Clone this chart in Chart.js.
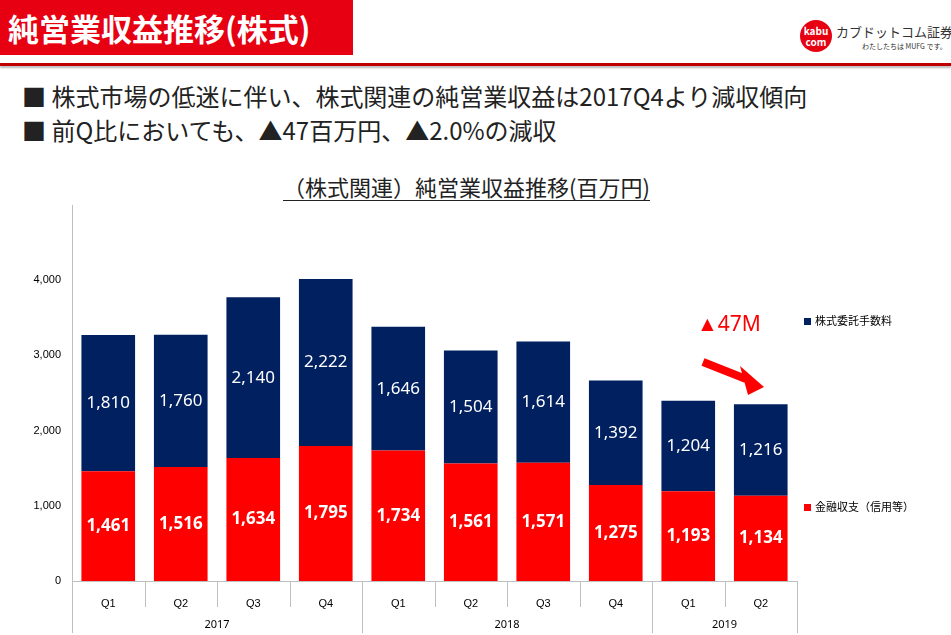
<!DOCTYPE html>
<html><head><meta charset="utf-8">
<script src="https://cdn.jsdelivr.net/npm/chart.js@4"></script>
<style>
body{margin:0;width:951px;height:635px;position:relative;background:#fff;font-family:"Noto Sans CJK JP",sans-serif;overflow:hidden}
#c{position:absolute;left:0;top:0}
.hd{position:absolute;left:0;top:0;width:353px;height:55px;background:#e60012;color:#fff;font-weight:bold;font-size:31px;line-height:55px;padding-left:8px;box-sizing:border-box;white-space:nowrap}
.rule{position:absolute;left:0;top:63px;width:951px;height:3px;background:#c00000;box-shadow:0 2px 2px #bbb}
.b{position:absolute;left:22px;font-size:24px;color:#222;white-space:nowrap}
.t{position:absolute;left:283px;top:172px;font-size:22px;color:#222;white-space:nowrap;border-bottom:1.5px solid #222;line-height:28px}
.logo{position:absolute;left:800px;top:20px;width:32px;height:32px;border-radius:50%;background:#e60012;color:#fff;font-size:10px;line-height:11px;text-align:center;padding-top:5px;box-sizing:border-box;font-weight:bold}
.lt{position:absolute;left:836px;top:22px;font-size:13px;color:#333;white-space:nowrap}
.ls{position:absolute;left:862px;top:41px;font-size:7px;color:#333;white-space:nowrap}
</style></head><body>
<div class="hd">純営業収益推移(株式)</div>
<div class="logo">kabu<br>com</div>
<div class="lt">カブドットコム証券</div>
<div class="ls">わたしたちは MUFG です。</div>
<div class="rule"></div>
<div class="b" style="top:78px">■ 株式市場の低迷に伴い、株式関連の純営業収益は2017Q4より減収傾向</div>
<div class="b" style="top:112px">■ 前Q比においても、▲47百万円、▲2.0%の減収</div>
<div class="t">（株式関連）純営業収益推移(百万円)</div>
<canvas id="c" width="951" height="635"></canvas>
<script>
// データ
const quarters = ['Q1','Q2','Q3','Q4','Q1','Q2','Q3','Q4','Q1','Q2'];
const years = ['2017','2017','2017','2017','2018','2018','2018','2018','2019','2019'];
const kinyu = [1461,1516,1634,1795,1734,1561,1571,1275,1193,1134];
const itaku = [1810,1760,2140,2222,1646,1504,1614,1392,1204,1216];
const seriesNames = ['金融収支（信用等）','株式委託手数料'];

const RED = '#ff0000', NAVY = '#002060';

const overlay = {
  id: 'overlay',
  afterDatasetsDraw(chart) {
    const ctx = chart.ctx;
    ctx.save();
    ctx.textAlign = 'center'; ctx.textBaseline = 'middle'; ctx.fillStyle = '#fff';
    chart.data.datasets.forEach((ds, di) => {
      chart.getDatasetMeta(di).data.forEach((bar, i) => {
        ctx.font = (di === 0 ? 'bold ' : '') + '17px "Noto Sans", sans-serif';
        ctx.fillText(ds.data[i].toLocaleString('en-US'), bar.x, (bar.y + bar.base) / 2);
      });
    });
    // x軸の区切り線と年ラベル
    const xs = chart.scales.x, top = chart.chartArea.bottom;
    ctx.strokeStyle = '#bfbfbf'; ctx.lineWidth = 1;
    const step = xs.getPixelForValue(1) - xs.getPixelForValue(0);
    ctx.fillStyle = '#000'; ctx.font = '11px "Noto Sans", sans-serif';
    for (let i = 0; i <= quarters.length; i++) {
      const x = Math.round(xs.getPixelForValue(i) - step / 2) + 0.5;
      const groupEdge = i === 0 || i === quarters.length || years[i] !== years[i - 1];
      ctx.beginPath(); ctx.moveTo(x, top); ctx.lineTo(x, groupEdge ? top + 52 : top + 26); ctx.stroke();
    }
    let s = 0;
    for (let i = 1; i <= years.length; i++) {
      if (i === years.length || years[i] !== years[s]) {
        const x = (xs.getPixelForValue(s) + xs.getPixelForValue(i - 1)) / 2;
        ctx.fillText(years[s], x, top + 44);
        s = i;
      }
    }
    // 凡例
    ctx.textAlign = 'left'; ctx.font = '11px "Noto Sans CJK JP", sans-serif';
    [[NAVY, seriesNames[1], 321], [RED, seriesNames[0], 507]].forEach(([c, t, y]) => {
      ctx.fillStyle = c; ctx.fillRect(804, y - 3, 7, 7);
      ctx.fillStyle = '#000'; ctx.fillText(t, 815, y);
    });
    // 注記
    ctx.fillStyle = RED; ctx.font = '21px "Noto Sans", sans-serif';
    ctx.fillText('▲47M', 697, 325);
    ctx.strokeStyle = RED; ctx.lineWidth = 8;
    ctx.beginPath(); ctx.moveTo(703, 362); ctx.lineTo(746, 379); ctx.stroke();
    ctx.beginPath(); ctx.moveTo(764, 387); ctx.lineTo(740, 366); ctx.lineTo(748, 395); ctx.closePath();
    ctx.fillStyle = RED; ctx.fill();
    ctx.restore();
  }
};

new Chart(document.getElementById('c'), {
  type: 'bar',
  data: {
    labels: quarters,
    datasets: [
      { label: seriesNames[0], data: kinyu, backgroundColor: RED, barPercentage: 0.74, categoryPercentage: 1 },
      { label: seriesNames[1], data: itaku, backgroundColor: NAVY, barPercentage: 0.74, categoryPercentage: 1 }
    ]
  },
  options: {
    responsive: false, animation: false,
    layout: { padding: { left: 0, right: 154, top: 205, bottom: 0 } },
    plugins: { legend: { display: false }, tooltip: { enabled: false } },
    scales: {
      x: {
        stacked: true,
        grid: { display: false },
        border: { color: '#bfbfbf' },
        ticks: { color: '#000', font: { size: 11 }, padding: 8 },
        afterFit(s) { s.height = 54; }
      },
      y: {
        stacked: true, min: 0, max: 5000,
        grid: { display: false },
        border: { color: '#bfbfbf' },
        ticks: { stepSize: 1000, color: '#000', font: { size: 11 },
          callback: v => v === 5000 ? '' : v.toLocaleString('en-US') },
        afterFit(s) { s.width = 72; }
      }
    }
  },
  plugins: [overlay]
});
</script>
</body></html>
